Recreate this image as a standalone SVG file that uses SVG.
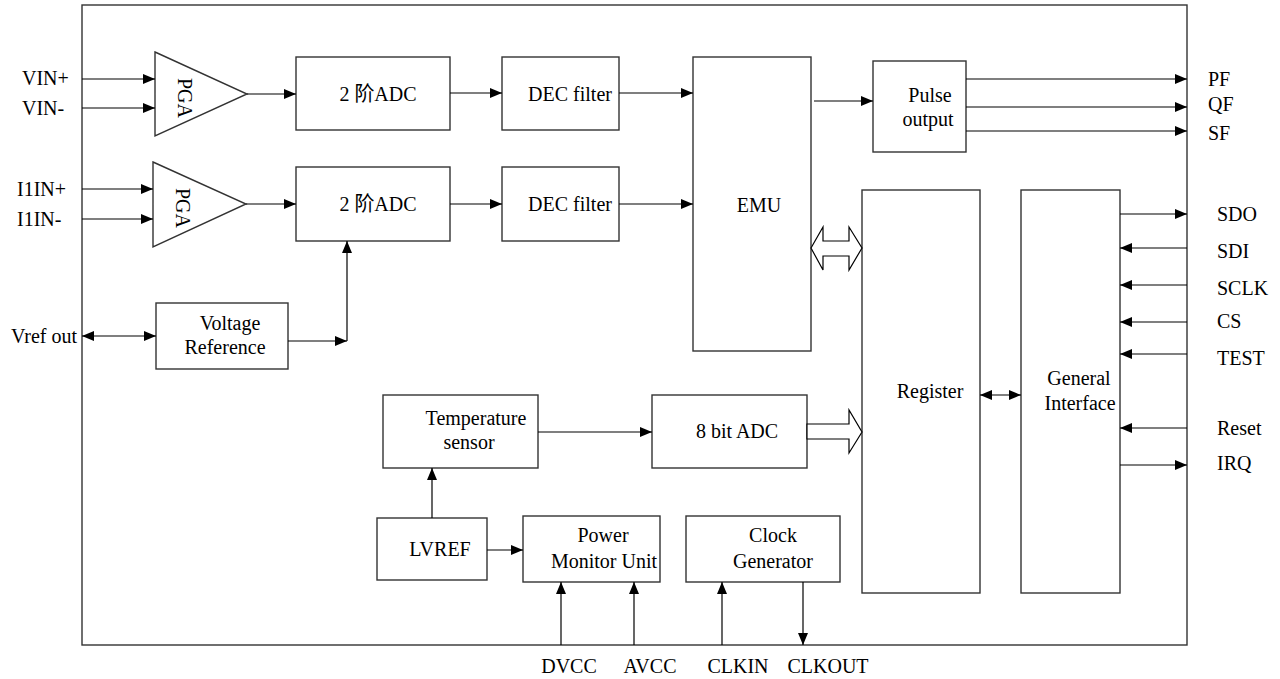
<svg xmlns="http://www.w3.org/2000/svg" width="1280" height="679" viewBox="0 0 1280 679">
<defs>
<marker id="ah" viewBox="0 0 12 10" refX="12" refY="5" markerWidth="12" markerHeight="10" markerUnits="userSpaceOnUse" orient="auto-start-reverse">
<path d="M0,0 L12,5 L0,10 z" fill="#000"/>
</marker>
<style>
.box{fill:#fff;stroke:#333;stroke-width:1.4}
.ln{fill:none;stroke:#000;stroke-width:1.2}
.ar{fill:none;stroke:#000;stroke-width:1.2;marker-end:url(#ah)}
.dar{fill:none;stroke:#000;stroke-width:1.2;marker-end:url(#ah);marker-start:url(#ah)}
.blk{fill:#fff;stroke:#000;stroke-width:1.2}
text{font-family:"Liberation Serif","Noto Sans CJK SC",serif;font-size:20px;fill:#000}
.c{text-anchor:middle}
</style>
</defs>
<rect width="1280" height="679" fill="#fff"/>
<g id="chip"><rect class="box" x="82" y="5" width="1105" height="640"/></g>

<g id="pga1"><polygon class="box" points="155,52 247,94 155,136"/><text transform="translate(185,98) rotate(90)" class="c" y="7">PGA</text></g>
<g id="pga2"><polygon class="box" points="153,162 246,204 153,247"/><text transform="translate(183,208) rotate(90)" class="c" y="7">PGA</text></g>
<g id="adc1"><rect class="box" x="296" y="57" width="154" height="73"/><text x="378" y="101" class="c">2 阶ADC</text></g>
<g id="adc2"><rect class="box" x="296" y="167" width="154" height="74"/><text x="378" y="211" class="c">2 阶ADC</text></g>
<g id="dec1"><rect class="box" x="502" y="57" width="117" height="73"/><text x="570" y="101" class="c">DEC filter</text></g>
<g id="dec2"><rect class="box" x="502" y="167" width="117" height="74"/><text x="570" y="211" class="c">DEC filter</text></g>
<g id="emu"><rect class="box" x="693" y="57" width="118" height="294"/><text x="759" y="212" class="c">EMU</text></g>
<g id="pulse"><rect class="box" x="873" y="61" width="93" height="91"/><text x="930" y="102" class="c">Pulse</text><text x="928" y="126" class="c">output</text></g>
<g id="register"><rect class="box" x="862" y="190" width="118" height="403"/><text x="930" y="398" class="c">Register</text></g>
<g id="geninterface"><rect class="box" x="1021" y="190" width="99" height="403"/><text x="1079" y="385" class="c">General</text><text x="1080" y="410" class="c">Interface</text></g>
<g id="vref"><rect class="box" x="156" y="303" width="132" height="66"/><text x="230" y="330" class="c">Voltage</text><text x="225" y="354" class="c">Reference</text></g>
<g id="temp"><rect class="box" x="383" y="395" width="155" height="73"/><text x="476" y="425" class="c">Temperature</text><text x="469" y="449" class="c">sensor</text></g>
<g id="adc8"><rect class="box" x="652" y="395" width="155" height="73"/><text x="737" y="438" class="c">8 bit ADC</text></g>
<g id="lvref"><rect class="box" x="377" y="518" width="110" height="62"/><text x="440" y="556" class="c">LVREF</text></g>
<g id="pmu"><rect class="box" x="523" y="516" width="137" height="66"/><text x="603" y="542" class="c">Power</text><text x="604" y="568" class="c">Monitor Unit</text></g>
<g id="clkgen"><rect class="box" x="686" y="516" width="154" height="66"/><text x="773" y="542" class="c">Clock</text><text x="773" y="568" class="c">Generator</text></g>

<g id="connectors">
<line class="ar" x1="82" y1="79" x2="155" y2="79"/>
<line class="ar" x1="82" y1="108" x2="155" y2="108"/>
<line class="ar" x1="82" y1="189" x2="153" y2="189"/>
<line class="ar" x1="82" y1="219" x2="153" y2="219"/>
<line class="ar" x1="247" y1="94" x2="296" y2="94"/>
<line class="ar" x1="246" y1="204" x2="296" y2="204"/>
<line class="ar" x1="450" y1="93" x2="502" y2="93"/>
<line class="ar" x1="450" y1="204" x2="502" y2="204"/>
<line class="ar" x1="619" y1="93" x2="693" y2="93"/>
<line class="ar" x1="619" y1="204" x2="693" y2="204"/>
<line class="ar" x1="814" y1="101" x2="873" y2="101"/>
<line class="ar" x1="966" y1="79" x2="1187" y2="79"/>
<line class="ar" x1="966" y1="107" x2="1187" y2="107"/>
<line class="ar" x1="966" y1="131" x2="1187" y2="131"/>
<line class="dar" x1="82" y1="336" x2="156" y2="336"/>
<line class="ar" x1="288" y1="341" x2="347" y2="341"/>
<line class="ar" x1="347" y1="341" x2="347" y2="241"/>
<line class="ar" x1="538" y1="432" x2="652" y2="432"/>
<line class="ar" x1="432" y1="518" x2="432" y2="468"/>
<line class="ar" x1="487" y1="550" x2="523" y2="550"/>
<line class="ar" x1="561" y1="645" x2="561" y2="582"/>
<line class="ar" x1="634" y1="645" x2="634" y2="582"/>
<line class="ar" x1="722" y1="645" x2="722" y2="582"/>
<line class="ar" x1="803" y1="582" x2="803" y2="645"/>
<line class="dar" x1="980" y1="395" x2="1021" y2="395"/>
<line class="ar" x1="1120" y1="214" x2="1187" y2="214"/>
<line class="ar" x1="1187" y1="248" x2="1120" y2="248"/>
<line class="ar" x1="1187" y1="285" x2="1120" y2="285"/>
<line class="ar" x1="1187" y1="322" x2="1120" y2="322"/>
<line class="ar" x1="1187" y1="354" x2="1120" y2="354"/>
<line class="ar" x1="1187" y1="428" x2="1120" y2="428"/>
<line class="ar" x1="1120" y1="465" x2="1187" y2="465"/>
<polygon class="blk" points="811,248 823,227 823,241 849,241 849,227 862,248 849,270 849,256 823,256 823,270"/>
<polygon class="blk" points="807,424 849,424 849,410 862,432 849,453 849,439 807,439"/>
</g>

<g id="labels">
<text x="22" y="85">VIN+</text>
<text x="22" y="115">VIN-</text>
<text x="17" y="196">I1IN+</text>
<text x="17" y="226">I1IN-</text>
<text x="77" y="343" text-anchor="end">Vref out</text>
<text x="1208" y="86">PF</text>
<text x="1208" y="111">QF</text>
<text x="1208" y="140">SF</text>
<text x="1217" y="221">SDO</text>
<text x="1217" y="258">SDI</text>
<text x="1217" y="295">SCLK</text>
<text x="1217" y="328">CS</text>
<text x="1217" y="365">TEST</text>
<text x="1217" y="435">Reset</text>
<text x="1217" y="470">IRQ</text>
<text x="569" y="673" class="c">DVCC</text>
<text x="650" y="673" class="c">AVCC</text>
<text x="738" y="673" class="c">CLKIN</text>
<text x="828" y="673" class="c">CLKOUT</text>
</g>
</svg>
